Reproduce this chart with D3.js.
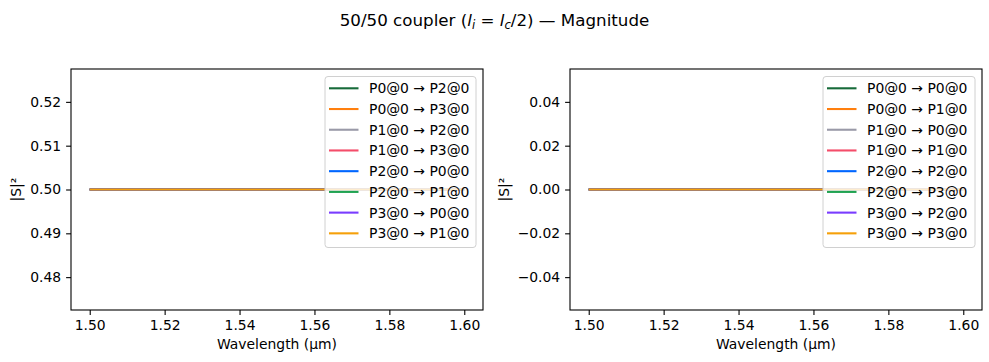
<!DOCTYPE html>
<html>
<head>
<meta charset="utf-8">
<script src="https://cdn.jsdelivr.net/npm/d3@7"></script>
<style>
  body { margin: 0; background: #fff; }
  svg { font-family: "DejaVu Sans", sans-serif; }
  .tick text { font-size: 13.9px; fill: #000; }
</style>
</head>
<body>
<div id="chart"></div>
<script>
// data
var wavelength = [1.50, 1.52, 1.54, 1.56, 1.58, 1.60];
var coupledPaths = ["P0@0 → P2@0", "P0@0 → P3@0", "P1@0 → P2@0", "P1@0 → P3@0",
                    "P2@0 → P0@0", "P2@0 → P1@0", "P3@0 → P0@0", "P3@0 → P1@0"];
var reflectPaths = ["P0@0 → P0@0", "P0@0 → P1@0", "P1@0 → P0@0", "P1@0 → P1@0",
                    "P2@0 → P2@0", "P2@0 → P3@0", "P3@0 → P2@0", "P3@0 → P3@0"];
var coupledValues = [0.5, 0.5, 0.5, 0.5, 0.5, 0.5];
var reflectValues = [0, 0, 0, 0, 0, 0];
var xTicks = [1.50, 1.52, 1.54, 1.56, 1.58, 1.60];
var yTicksLeft = [0.48, 0.49, 0.50, 0.51, 0.52];
var yTicksRight = [-0.04, -0.02, 0.00, 0.02, 0.04];
var colors = ["#176b3a", "#ff7f0e", "#9a9aa8", "#f44d6a", "#0066ff", "#20a352", "#7a3cff", "#f5a00a"];

var W = 989, H = 362;
var svg = d3.select("#chart").append("svg")
    .attr("width", W)
    .attr("height", H);

// title with math part
var title = svg.append("text")
    .attr("x", 494.5)
    .attr("y", 26)
    .attr("text-anchor", "middle")
    .style("font-size", "16.7px");
title.append("tspan").text("50/50 coupler (");
title.append("tspan").style("font-style", "italic").text("l");
title.append("tspan").attr("dy", 3).style("font-size", "11.7px").style("font-style", "italic").text("i");
title.append("tspan").attr("dy", -3).text(" = ");
title.append("tspan").style("font-style", "italic").text("l");
title.append("tspan").attr("dy", 3).style("font-size", "11.7px").style("font-style", "italic").text("c");
title.append("tspan").attr("dy", -3).text("/2) — Magnitude");

function panel(left, right, yDomain, yTicks, values, labels, legendX, ylabelX) {
    var top = 69, bottom = 310;
    var x = d3.scaleLinear().domain([1.495, 1.605]).range([left, right]);
    var y = d3.scaleLinear().domain(yDomain).range([bottom, top]);
    var g = svg.append("g");

    // lines, all overlapping
    var line = d3.line()
        .x(function (d, i) { return x(wavelength[i]); })
        .y(function (d) { return y(d); });
    labels.forEach(function (lab, k) {
        g.append("path")
            .datum(values)
            .attr("d", line)
            .attr("fill", "none")
            .attr("stroke", colors[k])
            .attr("stroke-width", 2.1);
    });

    // axes
    var xa = g.append("g")
        .attr("transform", "translate(0," + bottom + ")")
        .call(d3.axisBottom(x).tickValues(xTicks).tickFormat(d3.format(".2f"))
            .tickSize(4.9).tickPadding(4.9).tickSizeOuter(0));
    var ya = g.append("g")
        .attr("transform", "translate(" + left + ",0)")
        .call(d3.axisLeft(y).tickValues(yTicks).tickFormat(d3.format(".2f"))
            .tickSize(4.9).tickPadding(4.9).tickSizeOuter(0));
    [xa, ya].forEach(function (a) {
        a.select(".domain").remove();
        a.selectAll(".tick line").attr("stroke", "#000").attr("stroke-width", 1.1);
        a.attr("font-family", null).attr("font-size", null);
    });

    g.append("rect")
        .attr("x", left).attr("y", top)
        .attr("width", right - left).attr("height", bottom - top)
        .attr("fill", "none")
        .attr("stroke", "#000")
        .attr("stroke-width", 1.1);

    // axis labels
    g.append("text")
        .attr("x", (left + right) / 2)
        .attr("y", 349)
        .attr("text-anchor", "middle")
        .style("font-size", "13.9px")
        .text("Wavelength (µm)");
    g.append("text")
        .attr("transform", "translate(" + ylabelX + "," + (top + bottom) / 2 + ") rotate(-90)")
        .attr("text-anchor", "middle")
        .style("font-size", "13.9px")
        .text("|S|²");

    // legend
    var lw = right - 7 - legendX;
    var leg = g.append("g");
    leg.append("rect")
        .attr("x", legendX).attr("y", 76.5)
        .attr("width", lw).attr("height", 171)
        .attr("rx", 3)
        .attr("fill", "#fff")
        .attr("fill-opacity", 0.8)
        .attr("stroke", "#d0d0d0")
        .attr("stroke-width", 1);
    labels.forEach(function (lab, k) {
        var cy = 88.3 + k * 20.72;
        leg.append("line")
            .attr("x1", legendX + 4).attr("x2", legendX + 33.5)
            .attr("y1", cy).attr("y2", cy)
            .attr("stroke", colors[k])
            .attr("stroke-width", 2.1);
        leg.append("text")
            .attr("x", legendX + 44)
            .attr("y", cy + 5)
            .style("font-size", "13.9px")
            .text(lab);
    });
}

panel(71, 483, [0.4725, 0.5275], yTicksLeft, coupledValues, coupledPaths, 325, 21);
panel(570, 982, [-0.055, 0.055], yTicksRight, reflectValues, reflectPaths, 823, 509);
</script>
</body>
</html>
